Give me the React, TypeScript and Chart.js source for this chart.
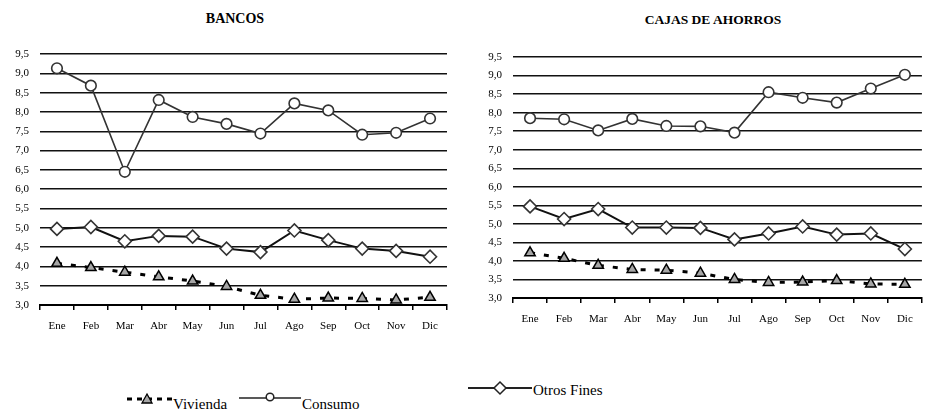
import React, { useEffect, useRef } from 'react';
import { Chart, registerables } from 'chart.js';

Chart.register(...registerables);

// ---- Data ----
const months = ['Ene', 'Feb', 'Mar', 'Abr', 'May', 'Jun', 'Jul', 'Ago', 'Sep', 'Oct', 'Nov', 'Dic'];

const bancosVivienda = [4.08, 3.97, 3.85, 3.73, 3.62, 3.48, 3.25, 3.15, 3.18, 3.17, 3.13, 3.2];
const bancosConsumo = [9.13, 8.68, 6.45, 8.31, 7.87, 7.69, 7.44, 8.22, 8.04, 7.41, 7.46, 7.83];
const bancosOtros = [4.97, 5.02, 4.65, 4.79, 4.77, 4.46, 4.37, 4.93, 4.68, 4.46, 4.4, 4.25];

const cajasVivienda = [4.22, 4.07, 3.88, 3.77, 3.75, 3.67, 3.5, 3.42, 3.43, 3.47, 3.38, 3.37];
const cajasConsumo = [7.85, 7.82, 7.52, 7.83, 7.64, 7.63, 7.46, 8.55, 8.4, 8.27, 8.65, 9.02];
const cajasOtros = [5.47, 5.13, 5.4, 4.9, 4.9, 4.89, 4.58, 4.74, 4.93, 4.71, 4.74, 4.32];

const yMin = 3;
const yMax = 9.5;
const yStep = 0.5;

const seriesNames = ['Vivienda', 'Consumo', 'Otros Fines'];

const FONT = '"Liberation Serif", "Times New Roman", serif';

type Opts = { padTop: number; padRight: number; yWidth: number; xHeight: number };

function makeChart(canvas: HTMLCanvasElement, viv: number[], con: number[], otr: number[], o: Opts) {
  return new Chart(canvas, {
    type: 'line',
    data: {
      labels: months,
      datasets: [
        {
          label: seriesNames[0],
          data: viv,
          borderColor: '#000',
          borderWidth: 3,
          borderDash: [5, 9],
          pointStyle: 'triangle',
          pointRadius: 6,
          pointBackgroundColor: '#a6a6a6',
          pointBorderColor: '#000',
          pointBorderWidth: 1.5,
          tension: 0,
          clip: false,
        },
        {
          label: seriesNames[1],
          data: con,
          borderColor: '#333',
          borderWidth: 1.6,
          pointStyle: 'circle',
          pointRadius: 5.3,
          pointBackgroundColor: '#fff',
          pointBorderColor: '#333',
          pointBorderWidth: 1.6,
          tension: 0,
          clip: false,
        },
        {
          label: seriesNames[2],
          data: otr,
          borderColor: '#111',
          borderWidth: 2,
          pointStyle: 'rectRot',
          pointRadius: 6.5,
          pointBackgroundColor: '#fff',
          pointBorderColor: '#333',
          pointBorderWidth: 1.6,
          tension: 0,
          clip: false,
        },
      ],
    } as any,
    options: {
      animation: false,
      responsive: false,
      devicePixelRatio: 1,
      layout: { padding: { top: o.padTop, right: o.padRight, left: 0, bottom: 0 } },
      plugins: {
        legend: { display: false },
        tooltip: { enabled: false },
        title: { display: false },
      },
      scales: {
        x: {
          type: 'category',
          offset: true,
          afterFit: (s: any) => {
            s.height = o.xHeight;
          },
          grid: {
            offset: true,
            drawOnChartArea: false,
            drawTicks: true,
            tickLength: 5,
            color: '#000',
            lineWidth: 1.5,
          },
          border: { display: true, color: '#000', width: 2 },
          ticks: {
            color: '#000',
            font: { family: FONT, size: 11 },
            padding: 10,
            maxRotation: 0,
            autoSkip: false,
          },
        },
        y: {
          min: yMin,
          max: yMax,
          afterFit: (s: any) => {
            s.width = o.yWidth;
          },
          grid: { color: '#111', lineWidth: 1.4, drawTicks: false },
          border: { display: false },
          ticks: {
            stepSize: yStep,
            color: '#000',
            font: { family: FONT, size: 11 },
            padding: 11,
            callback: (v: any) => Number(v).toFixed(1).replace('.', ','),
          },
        },
      },
    } as any,
  });
}

function LegendMark({ kind }: { kind: number }) {
  if (kind === 0) {
    return (
      <svg width={46} height={14} style={{ display: 'block' }}>
        <line x1={0} y1={8} x2={46} y2={8} stroke="#000" strokeWidth={3} strokeDasharray="5 5" />
        <polygon points="20,3 25,12 15,12" fill="#a6a6a6" stroke="#000" strokeWidth={1.3} />
      </svg>
    );
  }
  if (kind === 1) {
    return (
      <svg width={62} height={14} style={{ display: 'block' }}>
        <line x1={0} y1={7} x2={62} y2={7} stroke="#222" strokeWidth={1.5} />
        <circle cx={31} cy={6} r={3.8} fill="#fff" stroke="#222" strokeWidth={1.5} />
      </svg>
    );
  }
  return (
    <svg width={64} height={16} style={{ display: 'block' }}>
      <line x1={0} y1={8} x2={64} y2={8} stroke="#222" strokeWidth={2} />
      <polygon points="32,2 38,8 32,14 26,8" fill="#fff" stroke="#222" strokeWidth={1.5} />
    </svg>
  );
}

export default function App() {
  const leftRef = useRef<HTMLCanvasElement>(null);
  const rightRef = useRef<HTMLCanvasElement>(null);

  useEffect(() => {
    document.body.style.margin = '0';
    const c1 = makeChart(leftRef.current!, bancosVivienda, bancosConsumo, bancosOtros, {
      padTop: 54,
      padRight: 18,
      yWidth: 40,
      xHeight: 40,
    });
    const c2 = makeChart(rightRef.current!, cajasVivienda, cajasConsumo, cajasOtros, {
      padTop: 57,
      padRight: 2,
      yWidth: 48,
      xHeight: 40,
    });
    return () => {
      c1.destroy();
      c2.destroy();
    };
  }, []);

  const textStyle: React.CSSProperties = {
    position: 'absolute',
    fontFamily: FONT,
    fontSize: 15,
    lineHeight: '16px',
    color: '#000',
    whiteSpace: 'nowrap',
  };

  return (
    <div style={{ position: 'relative', width: 930, height: 416, background: '#fff', overflow: 'hidden' }}>
      <div
        style={{
          ...textStyle,
          left: 135,
          width: 200,
          top: 11,
          textAlign: 'center',
          fontWeight: 'bold',
          fontSize: 14,
        }}
      >
        BANCOS
      </div>
      <div
        style={{
          ...textStyle,
          left: 613,
          width: 200,
          top: 12,
          textAlign: 'center',
          fontWeight: 'bold',
          fontSize: 13.5,
        }}
      >
        CAJAS DE AHORROS
      </div>
      <canvas ref={leftRef} width={465} height={345} style={{ position: 'absolute', left: 0, top: 0 }} />
      <canvas ref={rightRef} width={465} height={338} style={{ position: 'absolute', left: 465, top: 0 }} />

      <div style={{ position: 'absolute', left: 127, top: 391 }}>
        <LegendMark kind={0} />
      </div>
      <div style={{ ...textStyle, left: 173, top: 396 }}>{seriesNames[0]}</div>

      <div style={{ position: 'absolute', left: 239, top: 391 }}>
        <LegendMark kind={1} />
      </div>
      <div style={{ ...textStyle, left: 302, top: 396 }}>{seriesNames[1]}</div>

      <div style={{ position: 'absolute', left: 468, top: 380 }}>
        <LegendMark kind={2} />
      </div>
      <div style={{ ...textStyle, left: 533, top: 382 }}>{seriesNames[2]}</div>
    </div>
  );
}
